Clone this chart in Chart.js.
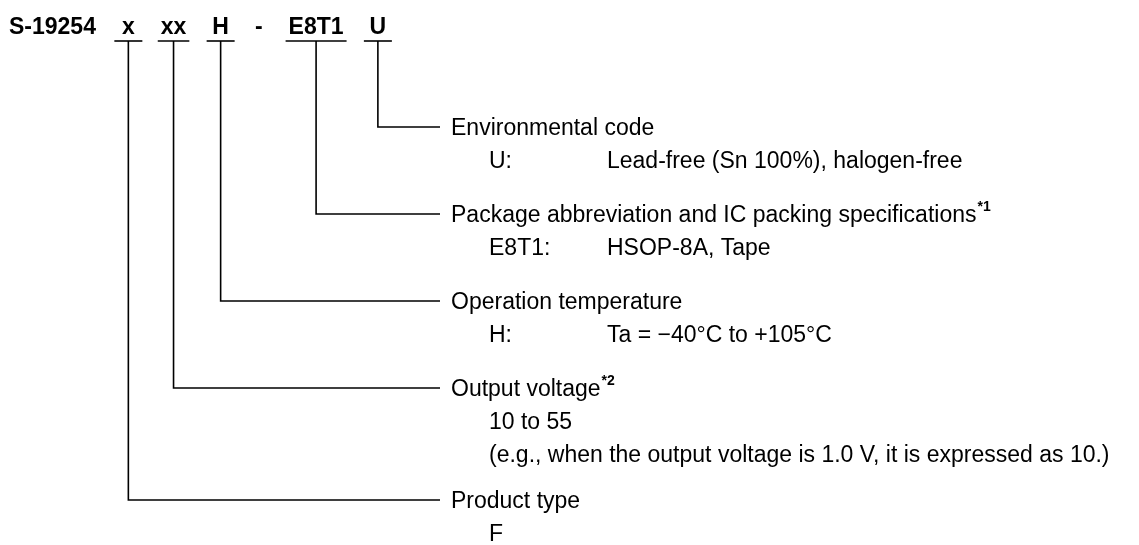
<!DOCTYPE html>
<html>
<head>
<meta charset="utf-8">
<style>
  html, body { margin: 0; padding: 0; background: #fff; }
  #wrap { width: 1139px; height: 545px; }
</style>
</head>
<body>
<div id="wrap">
  <canvas id="code-chart" width="1139" height="545"></canvas>
</div>

<script src="https://cdn.jsdelivr.net/npm/chart.js"></script>

<script>
  // product code pieces, left to right
  const codeTokens = ['S-19254', 'x', 'xx', 'H', '-', 'E8T1', 'U']
  // which code piece each explanation group points at
  const groupToken = [6, 5, 3, 2, 1]
  const groupTitles = [
    'Environmental code',
    'Package abbreviation and IC packing specifications',
    'Operation temperature',
    'Output voltage',
    'Product type',
  ]
  const titleNotes = ['', '*1', '', '*2', '']
  const groupKeys = ['U:', 'E8T1:', 'H:', '', '']
  const groupValues = [
    ['Lead-free (Sn 100%), halogen-free'],
    ['HSOP-8A, Tape'],
    ['Ta = \u221240\u00b0C to +105\u00b0C'],
    ['10 to 55', '(e.g., when the output voltage is 1.0 V, it is expressed as 10.)'],
    ['F'],
  ]

  // layout
  const W = 1139, H = 545
  const FAMILY = '"Liberation Sans", Arial, sans-serif'
  const headFont = 'bold 23px ' + FAMILY
  const bodyFont = '23px ' + FAMILY
  const noteFont = 'bold 14px ' + FAMILY
  const headX = 9, headGap = 26, headY = 26, ruleY = 41
  const lineEndX = 440, titleX = 451, keyX = 489, valueX = 607
  const firstY = 127, groupPitch = 87, extraStep = 25, rowStep = 33
  const capHalf = 8

  const measure = document.createElement('canvas').getContext('2d')
  const textW = (font, s) => { measure.font = font; return measure.measureText(s).width }

  // header token positions
  let cursor = headX
  const tokens = codeTokens.map(t => {
    const w = textW(headFont, t)
    const o = { text: t, x: cursor, w: w, cx: cursor + w / 2 }
    cursor += w + headGap
    return o
  })

  // rows under each title
  const rowCount = groupTitles.map((t, i) => 1 + (groupKeys[i] ? 1 : groupValues[i].length))
  let gy = firstY
  const groupY = rowCount.map(n => {
    const y = gy
    gy += groupPitch + (n - 2) * extraStep
    return y
  })

  const datasets = []
  groupToken.forEach((ti, gi) => {
    const tk = tokens[ti]
    const half = Math.max(tk.w / 2 + 3, 14)
    datasets.push({
      data: [{ x: tk.cx - half, y: ruleY }, { x: tk.cx + half, y: ruleY }],
    })
    datasets.push({
      data: [{ x: tk.cx, y: ruleY }, { x: tk.cx, y: groupY[gi] }, { x: lineEndX, y: groupY[gi] }],
    })
  })
  datasets.forEach(d => Object.assign(d, {
    showLine: true, borderColor: '#000', borderWidth: 1.6, pointRadius: 0, tension: 0, fill: false,
  }))

  const textPlugin = {
    id: 'codeText',
    afterDatasetsDraw(chart) {
      const c = chart.ctx
      const sx = v => chart.scales.x.getPixelForValue(v)
      const sy = v => chart.scales.y.getPixelForValue(v)
      c.save()
      c.fillStyle = '#000'
      c.textBaseline = 'alphabetic'
      c.textAlign = 'left'
      c.font = headFont
      tokens.forEach(t => c.fillText(t.text, sx(t.x), sy(headY + capHalf)))

      groupTitles.forEach((title, i) => {
        const y = groupY[i]
        c.font = bodyFont
        c.fillText(title, sx(titleX), sy(y + capHalf))
        if (titleNotes[i]) {
          const w = c.measureText(title).width
          c.font = noteFont
          c.fillText(titleNotes[i], sx(titleX) + w + 1, sy(y - 3))
          c.font = bodyFont
        }
        if (groupKeys[i]) {
          c.fillText(groupKeys[i], sx(keyX), sy(y + rowStep + capHalf))
          c.fillText(groupValues[i][0], sx(valueX), sy(y + rowStep + capHalf))
        } else {
          groupValues[i].forEach((v, k) => c.fillText(v, sx(keyX), sy(y + (k + 1) * rowStep + capHalf)))
        }
      })
      c.restore()
    }
  }

  const chart = new Chart(document.getElementById('code-chart').getContext('2d'), {
    type: 'scatter',
    data: { datasets: datasets },
    options: {
      responsive: false,
      animation: false,
      layout: { padding: 0 },
      plugins: { legend: { display: false }, tooltip: { enabled: false } },
      scales: {
        x: { type: 'linear', min: 0, max: W, display: false },
        y: { type: 'linear', min: 0, max: H, reverse: true, display: false },
      },
    },
    plugins: [textPlugin],
  })
</script>
</body>
</html>
